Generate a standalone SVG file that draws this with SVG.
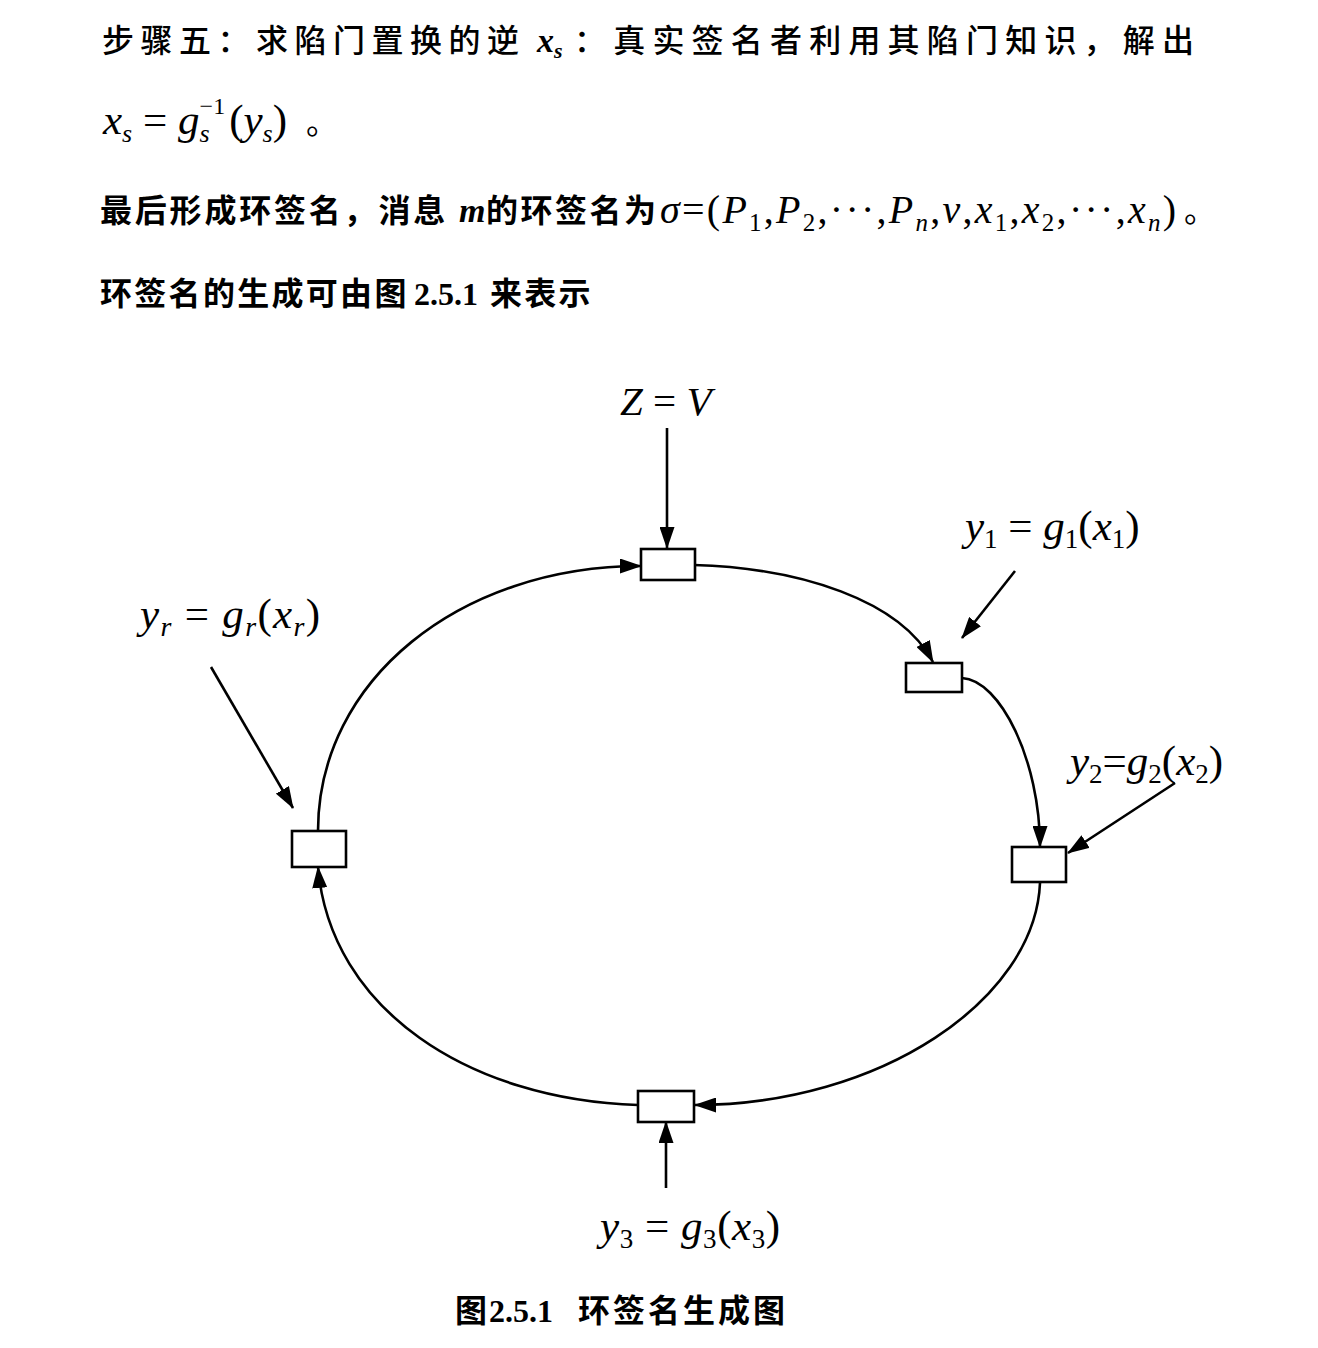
<svg xmlns="http://www.w3.org/2000/svg" width="1318" height="1348" viewBox="0 0 1318 1348">
<style>
.cn{font-family:"Noto Sans CJK SC","Noto Sans",sans-serif;font-size:32px;fill:#000}
.cnb{font-family:"Liberation Serif","Noto Sans CJK SC",serif;font-size:32px;font-weight:bold;fill:#000}
.m{font-family:"Liberation Serif",serif;font-style:italic;fill:#000}
.mu{font-family:"Liberation Serif",serif;font-style:normal;fill:#000}
.box{fill:#fff;stroke:#000;stroke-width:2.6}
.ln{fill:none;stroke:#000;stroke-width:2.6;marker-end:url(#ah)}
</style>
<defs>
<marker id="ah" markerUnits="userSpaceOnUse" markerWidth="22" markerHeight="15" refX="21" refY="7.5" orient="auto">
<path d="M0,0 L22,7.5 L0,15 z" fill="#000"/>
</marker>
</defs>
<rect width="1318" height="1348" fill="#fff"/>

<g id="text-para">
<text class="cn" x="102" y="52" letter-spacing="6.5" font-weight="500">步骤五：求陷门置换的逆</text>
<text class="m" x="537" y="52" font-size="34" font-weight="bold">x<tspan font-size="22" dy="6">s</tspan></text>
<text class="cn" x="574" y="52" letter-spacing="7.2" font-weight="500">：真实签名者利用其陷门知识，解出</text>

<text class="m" x="103" y="134" font-size="43">x<tspan font-size="26" dy="8">s</tspan><tspan class="mu" dy="-8"> = </tspan>g<tspan font-size="26" dy="8">s</tspan><tspan class="mu" font-size="24" dx="-10" dy="-28">−1</tspan><tspan class="mu" dy="20" dx="4">(</tspan>y<tspan font-size="26" dy="8">s</tspan><tspan class="mu" dy="-8">)</tspan></text>
<text class="cn" x="306" y="134">。</text>

<text class="cn" x="100" y="222" font-weight="bold" font-size="33" letter-spacing="2.8">最后形成环签名，消息</text>
<text class="m" x="459" y="222" font-size="34" font-weight="bold">m</text>
<text class="cn" x="486" y="222" font-weight="bold" font-size="33" letter-spacing="2.5">的环签名为</text>
<text class="m" x="660" y="223" font-size="40" textLength="516" lengthAdjust="spacing">σ<tspan class="mu">=(</tspan>P<tspan font-size="25" dy="8" class="mu">1</tspan><tspan class="mu" dy="-8">,</tspan>P<tspan font-size="25" dy="8" class="mu">2</tspan><tspan class="mu" dy="-8">,···,</tspan>P<tspan font-size="25" dy="8">n</tspan><tspan class="mu" dy="-8">,</tspan>v<tspan class="mu">,</tspan>x<tspan font-size="25" dy="8" class="mu">1</tspan><tspan class="mu" dy="-8">,</tspan>x<tspan font-size="25" dy="8" class="mu">2</tspan><tspan class="mu" dy="-8">,···,</tspan>x<tspan font-size="25" dy="8">n</tspan><tspan class="mu" dy="-8">)</tspan></text>
<text class="cn" x="1184" y="222">。</text>

<text class="cn" x="100" y="305" font-weight="bold" font-size="33" letter-spacing="2.3">环签名的生成可由图</text>
<text class="cnb" x="414" y="305" font-size="33">2.5.1</text>
<text class="cn" x="490" y="305" font-weight="bold" font-size="33" letter-spacing="2.3">来表示</text>
</g>

<g id="connectors">
<path class="ln" d="M694,565 C800,568 900,600 933,662"/>
<path class="ln" d="M962,678 C1000,680 1040,760 1040,847"/>
<path class="ln" d="M1040,883 C1035,1000 880,1105 695,1105"/>
<path class="ln" d="M638,1105 C470,1100 330,1010 318,867"/>
<path class="ln" d="M318,831 C318,680 460,566 641,566"/>
<path class="ln" d="M667,428 L667,548"/>
<path class="ln" d="M1015,571 L962,638"/>
<path class="ln" d="M1175,783 L1068,853"/>
<path class="ln" d="M211,667 L293,808"/>
<path class="ln" d="M666,1188 L666,1122"/>
</g>

<g id="node-top"><rect class="box" x="641" y="549" width="54" height="31"/></g>
<g id="node-1"><rect class="box" x="906" y="663" width="56" height="29"/></g>
<g id="node-2"><rect class="box" x="1012" y="847" width="54" height="35"/></g>
<g id="node-3"><rect class="box" x="638" y="1091" width="56" height="31"/></g>
<g id="node-r"><rect class="box" x="292" y="831" width="54" height="36"/></g>

<g id="labels">
<text class="m" x="620" y="415" font-size="41">Z<tspan class="mu"> = </tspan>V</text>
<text class="m" x="965" y="540" font-size="43">y<tspan font-size="27" dy="8" class="mu">1</tspan><tspan class="mu" dy="-8"> = </tspan>g<tspan font-size="27" dy="8" class="mu">1</tspan><tspan class="mu" dy="-8">(</tspan>x<tspan font-size="27" dy="8" class="mu">1</tspan><tspan class="mu" dy="-8">)</tspan></text>
<text class="m" x="1070" y="775" font-size="43">y<tspan font-size="27" dy="8" class="mu">2</tspan><tspan class="mu" dy="-8">=</tspan>g<tspan font-size="27" dy="8" class="mu">2</tspan><tspan class="mu" dy="-8">(</tspan>x<tspan font-size="27" dy="8" class="mu">2</tspan><tspan class="mu" dy="-8">)</tspan></text>
<text class="m" x="140" y="628" font-size="43" textLength="180" lengthAdjust="spacing">y<tspan font-size="28" dy="8">r</tspan><tspan class="mu" dy="-8"> = </tspan>g<tspan font-size="28" dy="8">r</tspan><tspan class="mu" dy="-8">(</tspan>x<tspan font-size="28" dy="8">r</tspan><tspan class="mu" dy="-8">)</tspan></text>
<text class="m" x="600" y="1240" font-size="43" textLength="180" lengthAdjust="spacing">y<tspan font-size="27" dy="8" class="mu">3</tspan><tspan class="mu" dy="-8"> = </tspan>g<tspan font-size="27" dy="8" class="mu">3</tspan><tspan class="mu" dy="-8">(</tspan>x<tspan font-size="27" dy="8" class="mu">3</tspan><tspan class="mu" dy="-8">)</tspan></text>
</g>

<g id="caption">
<text class="cn" x="455" y="1322" font-weight="bold">图</text>
<text class="cnb" x="489" y="1322">2.5.1</text>
<text class="cn" x="578" y="1322" font-weight="bold" letter-spacing="3">环签名生成图</text>
</g>
</svg>
